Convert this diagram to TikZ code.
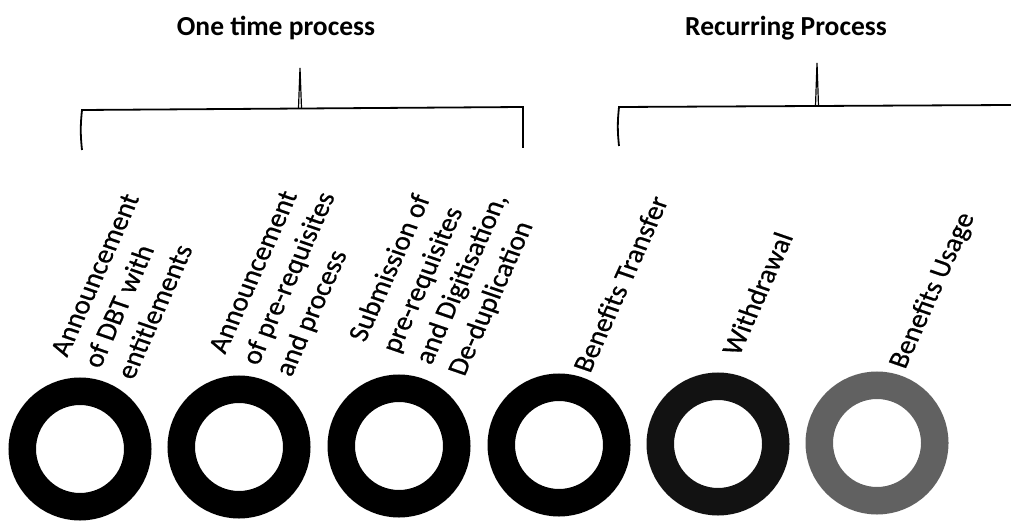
\documentclass[tikz,border=0pt]{standalone}
\usepackage{fontspec}
\setmainfont{Carlito}
\newfontfamily\steptextfont{Carlito}[FakeBold=0.6]
\usetikzlibrary{calc}
\begin{document}
\begin{tikzpicture}[x=1pt,y=-1pt,
  heading/.style={font=\fontsize{27.5}{33}\selectfont\bfseries, anchor=base, inner sep=0pt},
  steplabel/.style={font=\steptextfont\fontsize{28}{35}\selectfont, anchor=base west, inner sep=0pt,
    cm={0.413,0.911,-0.946,0.326,(0,0)}},
  ring/.style={circle, draw=#1, line width=27.5pt, minimum size=115.5pt, inner sep=0pt},
  ring/.default=black,
  bracket/.style={line width=1.8pt, line join=miter},
  spike/.style={line width=1.2pt, line join=miter}
]
\useasboundingbox (0,0) rectangle (1011,521);

% headings
\node[heading] (h1) at (276,36) {One time process};
\node[heading] (h2) at (786,36) {Recurring Process};

% bracket over the one-time steps
\coordinate (a1) at (82,150);
\coordinate (a2) at (82,110);
\coordinate (a3) at (523,107);
\coordinate (a4) at (523,148);
\coordinate (at) at (300,68);
\draw[bracket] (a1) to[bend left=6] (a2) -- (a3) -- (a4);
\draw[spike] ($(at)+(-1.5,40)$) -- (at) -- ++(1.5,40);

% bracket over the recurring steps
\coordinate (c1) at (619,146);
\coordinate (c2) at (619,107);
\coordinate (c3) at (1011,105);
\coordinate (ct) at (817,63);
\draw[bracket] (c1) to[bend left=6] (c2) -- (c3);
\draw[spike] ($(ct)+(-1.5,43)$) -- (ct) -- ++(1.5,43);

% step labels
\node[steplabel] (l1) at (67,358) {\begin{tabular}[t]{@{}l@{}}Announcement\\of DBT with\\entitlements\end{tabular}};
\node[steplabel] (l2) at (225,355) {\begin{tabular}[t]{@{}l@{}}Announcement\\of pre-requisites\\and process\end{tabular}};
\node[steplabel] (l3) at (365,343) {\begin{tabular}[t]{@{}l@{}}Submission of\\pre-requisites\\and Digitisation,\\De-duplication\end{tabular}};
\node[steplabel] (l4) at (590,374) {Benefits Transfer};
\node[steplabel] (l5) at (739,357) {Withdrawal};
\node[steplabel] (l6) at (905,370) {Benefits Usage};

% rings
\node[ring] (r1) at (80,449) {};
\node[ring] (r2) at (239,447) {};
\node[ring] (r3) at (399,446) {};
\node[ring] (r4) at (559,445) {};
\node[ring=black!93] (r5) at (718,444) {};
\node[ring=black!62] (r6) at (877,443) {};
\end{tikzpicture}
\end{document}
